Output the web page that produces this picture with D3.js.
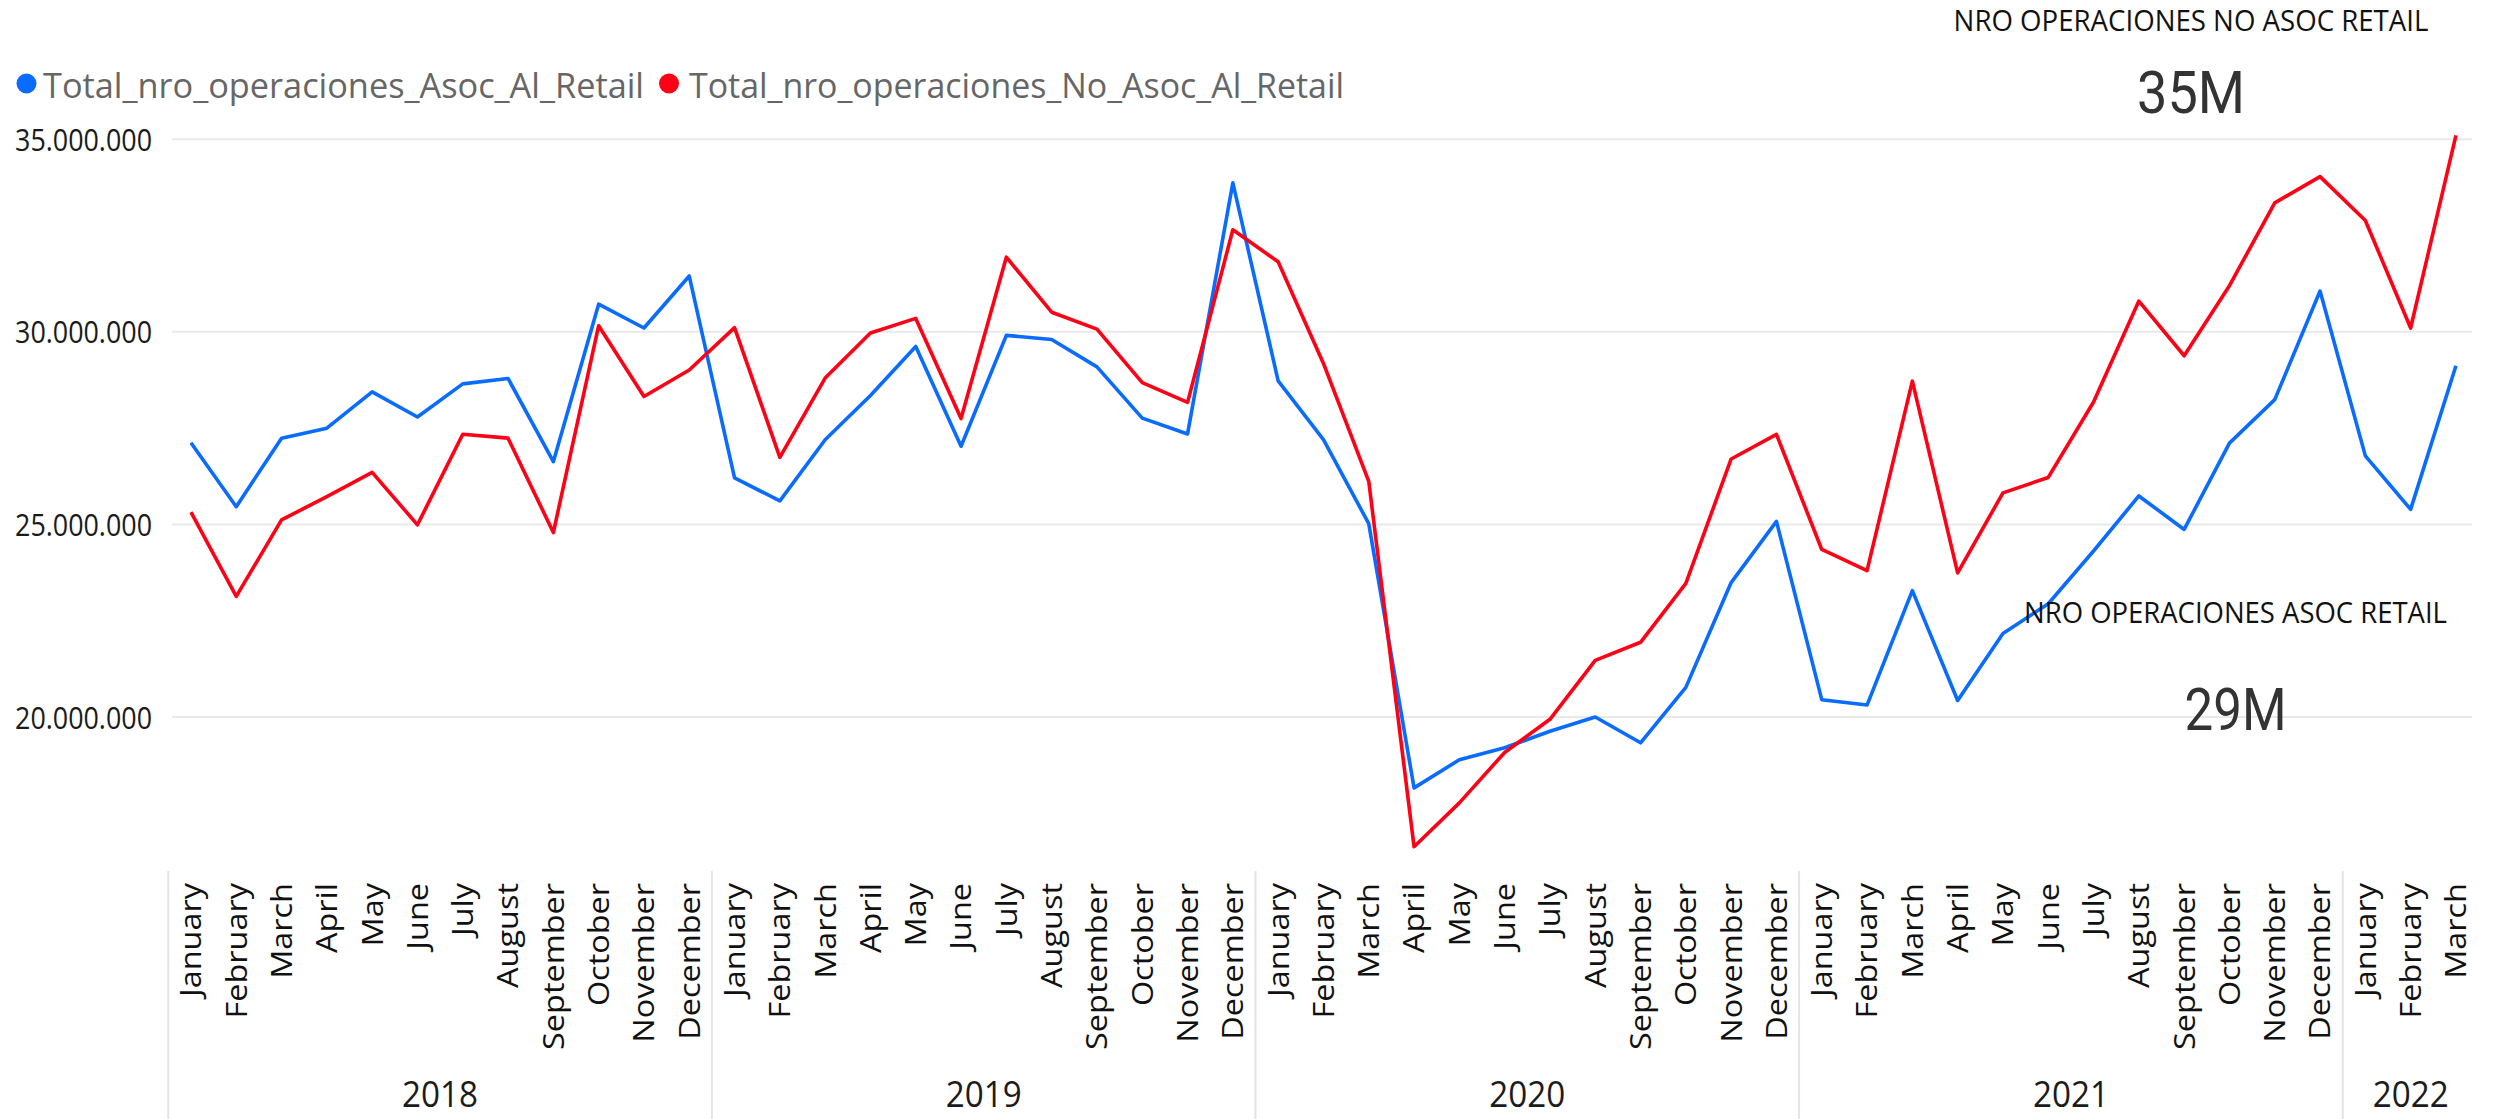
<!DOCTYPE html>
<html><head><meta charset="utf-8">
<script src="https://cdn.jsdelivr.net/npm/d3@7"></script>
<style>html,body{margin:0;padding:0;background:#fff;overflow:hidden}</style>
</head><body>
<svg id="chart" width="2498" height="1119"></svg>
<script>
// ---------------- data ----------------
const years = [2018, 2019, 2020, 2021, 2022];
const monthNames = ["January","February","March","April","May","June","July","August","September","October","November","December"];
const monthsPerYear = [12, 12, 12, 12, 3];
const seriesNames = ["Total_nro_operaciones_Asoc_Al_Retail", "Total_nro_operaciones_No_Asoc_Al_Retail"];
// values in millions of operations
const asocRetail = [
  27.12, 25.46, 27.24, 27.50, 28.44, 27.79, 28.65, 28.79, 26.63, 30.72, 30.10, 31.45,
  26.21, 25.61, 27.20, 28.35, 29.62, 27.03, 29.91, 29.80, 29.09, 27.76, 27.35, 33.87,
  28.73, 27.20, 25.02, 18.16, 18.89, 19.20, 19.63, 20.00, 19.33, 20.77, 23.49, 25.08,
  20.45, 20.31, 23.28, 20.43, 22.17, 22.94, 24.31, 25.74, 24.87, 27.11, 28.24, 31.06,
  26.78, 25.39, 29.12
];
const noAsocRetail = [
  25.32, 23.13, 25.12, 25.72, 26.35, 24.99, 27.34, 27.24, 24.79, 30.16, 28.32, 29.01,
  30.11, 26.74, 28.80, 29.97, 30.35, 27.75, 31.94, 30.51, 30.07, 28.68, 28.17, 32.65,
  31.82, 29.18, 26.12, 16.63, 17.77, 19.08, 19.94, 21.47, 21.94, 23.47, 26.70, 27.34,
  24.35, 23.80, 28.72, 23.74, 25.82, 26.22, 28.18, 30.80, 29.38, 31.20, 33.35, 34.03,
  32.89, 30.10, 35.10
];
const yTickValues = [20000000, 25000000, 30000000, 35000000];
const cardTitles = ["NRO OPERACIONES NO ASOC RETAIL", "NRO OPERACIONES ASOC RETAIL"];

// ---------------- layout ----------------
const BLUE = "#0a6cff", RED = "#ff0016";
const FONT = "'Open Sans', 'Segoe UI', sans-serif";
const svg = d3.select("#chart");

const cats = [];
years.forEach((yr, i) => {
  for (let m = 0; m < monthsPerYear[i]; m++) cats.push({year: yr, month: monthNames[m], key: yr + "-" + m});
});
const x = d3.scaleBand().domain(cats.map(d => d.key)).range([168.3, 2478.6]).padding(0);
const cx = k => x(k) + x.bandwidth() / 2;
const y = d3.scaleLinear().domain([20e6, 35e6]).range([717, 139.3]);
const loc = d3.formatLocale({decimal: ",", thousands: ".", grouping: [3], currency: ["", ""]});
const fmt = loc.format(",.0f");

function fitX(sel, targetW) {
  sel.each(function() {
    const w = this.getComputedTextLength();
    const base = d3.select(this).attr("data-base") || "";
    d3.select(this).attr("transform", base + ` scale(${targetW / w},1)`);
  });
}

// gridlines
svg.append("g").selectAll("line").data(yTickValues).join("line")
  .attr("x1", 172).attr("x2", 2472)
  .attr("y1", d => y(d)).attr("y2", d => y(d))
  .attr("stroke", "#e9e9e9").attr("stroke-width", 2);

// y axis
const yAxis = svg.append("g").attr("transform", "translate(152,0)")
  .call(d3.axisLeft(y).tickValues(yTickValues).tickFormat(fmt).tickSize(0).tickPadding(0));
yAxis.select(".domain").remove();
yAxis.selectAll("text")
  .attr("x", 0).attr("dy", null).attr("y", 0)
  .attr("font-family", FONT).attr("font-size", 31).attr("fill", "#1b1b1b")
  .attr("data-base", "translate(0,11)")
  .call(fitX, 137);

// lines
const line = d3.line().x((d, i) => cx(cats[i].key)).y(d => y(d * 1e6));
svg.append("path").datum(asocRetail).attr("d", line)
  .attr("fill", "none").attr("stroke", BLUE).attr("stroke-width", 3.6).attr("stroke-linejoin", "round");
svg.append("path").datum(noAsocRetail).attr("d", line)
  .attr("fill", "none").attr("stroke", RED).attr("stroke-width", 3.6).attr("stroke-linejoin", "round");

// month axis
const xAxis = svg.append("g").attr("transform", "translate(0,883)")
  .call(d3.axisBottom(x).tickFormat(k => cats.find(c => c.key === k).month).tickSize(0).tickPadding(0));
xAxis.select(".domain").remove();
const mTexts = xAxis.selectAll("text")
  .attr("y", 0).attr("dy", null).attr("x", 0)
  .attr("text-anchor", "end")
  .attr("font-family", FONT).attr("font-size", 29).attr("fill", "#111");
let sepW = 0;
mTexts.each(function() { if (this.textContent === "September") sepW = this.getComputedTextLength(); });
const kM = 167 / sepW;
mTexts.attr("transform", `translate(10.4,0) rotate(-90) scale(${kM},1)`);

// year separators and labels
const yearGroups = years.map((yr, i) => {
  const keys = cats.filter(c => c.year === yr).map(c => c.key);
  return {year: yr, start: x(keys[0]), mid: (cx(keys[0]) + cx(keys[keys.length - 1])) / 2};
});
svg.append("g").selectAll("line").data(yearGroups).join("line")
  .attr("x1", d => d.start).attr("x2", d => d.start)
  .attr("y1", 871).attr("y2", 1119)
  .attr("stroke", "#e4e4e4").attr("stroke-width", 2);
svg.append("g").selectAll("text").data(yearGroups).join("text")
  .attr("text-anchor", "middle")
  .attr("font-family", FONT).attr("font-size", 37).attr("fill", "#1b1b1b")
  .attr("data-base", d => `translate(${d.mid},1107)`)
  .text(d => d.year)
  .call(fitX, 76);

// legend
const legend = [{name: seriesNames[0], color: BLUE, cx: 26.5, tx: 43, w: 601},
                {name: seriesNames[1], color: RED, cx: 669, tx: 689, w: 655}];
const lg = svg.append("g");
lg.selectAll("circle").data(legend).join("circle")
  .attr("cx", d => d.cx).attr("cy", 83.5).attr("r", 10).attr("fill", d => d.color);
lg.selectAll("text").data(legend).join("text")
  .attr("font-family", FONT).attr("font-size", 35).attr("fill", "#666")
  .attr("data-base", d => `translate(${d.tx},97.5)`)
  .text(d => d.name)
  .call(fitX, null);
lg.selectAll("text").each(function(d) {
  const w = this.getComputedTextLength();
  d3.select(this).attr("transform", `translate(${d.tx},97.5) scale(${d.w / w},1)`);
});

// cards
const cards = [
  {title: cardTitles[0], value: noAsocRetail[noAsocRetail.length - 1], cx: 2191, ty: 30.7, tw: 475, vy: 113, vw: 108},
  {title: cardTitles[1], value: asocRetail[asocRetail.length - 1], cx: 2235.5, ty: 623, tw: 423, vy: 730, vw: 102}
];
const cg = svg.append("g");
cg.selectAll("text.t").data(cards).join("text").attr("class", "t")
  .attr("text-anchor", "middle").attr("font-family", FONT).attr("font-size", 29).attr("fill", "#111")
  .text(d => d.title)
  .each(function(d) {
    const w = this.getComputedTextLength();
    d3.select(this).attr("transform", `translate(${d.cx},${d.ty}) scale(${d.tw / w},1)`);
  });
cg.selectAll("text.v").data(cards).join("text").attr("class", "v")
  .attr("text-anchor", "middle").attr("font-family", "Roboto, sans-serif").attr("font-size", 60).attr("fill", "#333")
  .text(d => d3.format(".0f")(d.value) + "M")
  .each(function(d) {
    const w = this.getComputedTextLength();
    d3.select(this).attr("transform", `translate(${d.cx},${d.vy}) scale(${d.vw / w},1)`);
  });
</script>
</body></html>
